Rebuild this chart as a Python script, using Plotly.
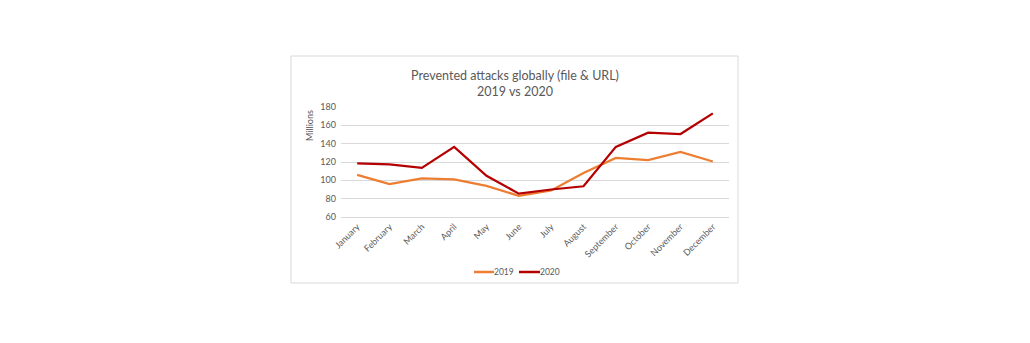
import plotly.graph_objects as go

months = ["January", "February", "March", "April", "May", "June", "July",
          "August", "September", "October", "November", "December"]
values_2019 = [106, 96, 102, 101, 94, 83, 89, 108, 124.5, 122, 131, 120.5]
values_2020 = [118.5, 117.5, 113.5, 136.5, 105, 85.5, 90, 93.5, 136.5, 152, 150.5, 173]
yticks = [60, 80, 100, 120, 140, 160, 180]
series_names = ["2019", "2020"]
series_colors = ["#ED7D31", "#B40000"]

W, H = 1030, 343
L, R, T, B = 341, 729, 107, 217  # plot area pixel edges
pw, ph = R - L, B - T

def px(x):
    return (x - L) / pw

def py(y):
    return (B - y) / ph

font = "Lato, 'Open Sans', sans-serif"
grey = "#595959"

fig = go.Figure()
for name, vals, col in zip(series_names, [values_2019, values_2020], series_colors):
    fig.add_trace(go.Scatter(x=months, y=vals, name=name, mode="lines",
                             line=dict(color=col, width=2.25), showlegend=False))

shapes = [dict(type="rect", xref="paper", yref="paper",
               x0=px(291), x1=px(738), y0=py(283), y1=py(56),
               line=dict(color="#d9d9d9", width=1), fillcolor="rgba(0,0,0,0)",
               layer="below")]
annotations = [dict(text="Millions", xref="paper", yref="paper",
                    x=px(309), y=py(126), textangle=-90, showarrow=False,
                    xanchor="center", yanchor="middle",
                    font=dict(size=9, color=grey, family=font))]

# custom legend (short line samples, as in the original)
leg_y = py(272)
for (x0, x1, tx), name, col in zip([(474, 494, 493), (519, 540, 539)], series_names, series_colors):
    shapes.append(dict(type="line", xref="paper", yref="paper",
                       x0=px(x0), x1=px(x1), y0=leg_y, y1=leg_y,
                       line=dict(color=col, width=2.5)))
    annotations.append(dict(text=name, xref="paper", yref="paper", x=px(tx), y=leg_y,
                            xanchor="left", yanchor="middle", showarrow=False,
                            borderpad=0,
                            font=dict(size=8.5, color=grey, family=font)))

fig.update_layout(
    width=W, height=H,
    margin=dict(l=L, r=W - R, t=T, b=H - B, pad=0),
    paper_bgcolor="white", plot_bgcolor="white",
    font=dict(family=font, color=grey, size=9),
    title=dict(text="Prevented attacks globally (file &amp; URL)<br>2019 vs 2020",
               x=px(515), xref="paper", xanchor="center",
               y=1 - 80 / H, yref="container", yanchor="middle",
               font=dict(family=font, size=12.5, color=grey)),
    xaxis=dict(type="category", range=[-0.5, 11.5], showgrid=False,
               tickangle=-45, ticks="", showline=True, linecolor="#d9d9d9",
               linewidth=1, tickfont=dict(size=9, color=grey), fixedrange=True),
    yaxis=dict(range=[60, 180], tickvals=yticks, showgrid=True, gridcolor="#d9d9d9",
               gridwidth=1, zeroline=False, ticks="", showline=False,
               ticklabelstandoff=4,
               tickfont=dict(size=9, color=grey), fixedrange=True),
    showlegend=False,
    shapes=shapes,
    annotations=annotations,
)

fig.write_html("out.html")
